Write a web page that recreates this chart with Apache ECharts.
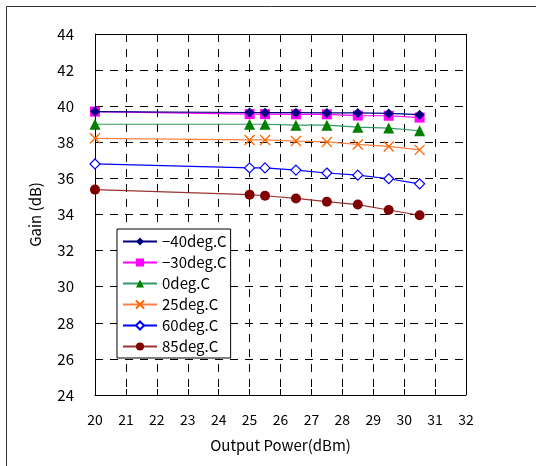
<!DOCTYPE html>
<html><head><meta charset="utf-8">
<script src="https://cdn.jsdelivr.net/npm/echarts@6/dist/echarts.min.js"></script>
<style>html,body{margin:0;padding:0;background:#fff}#c{width:536px;height:466px}</style>
</head><body><div id="c"></div>
<script>
var outputPower = [20, 25, 25.5, 26.5, 27.5, 28.5, 29.5, 30.5];
var seriesNames = ['\u221240deg.C', '\u221230deg.C', '0deg.C', '25deg.C', '60deg.C', '85deg.C'];
var gainM40 = [39.70, 39.65, 39.64, 39.64, 39.63, 39.63, 39.60, 39.53];
var gainM30 = [39.70, 39.56, 39.56, 39.55, 39.55, 39.48, 39.47, 39.37];
var gain0   = [39.00, 39.00, 39.00, 38.95, 38.95, 38.84, 38.79, 38.64];
var gain25  = [38.22, 38.13, 38.13, 38.07, 38.02, 37.88, 37.77, 37.58];
var gain60  = [36.80, 36.58, 36.58, 36.46, 36.30, 36.18, 35.98, 35.70];
var gain85  = [35.38, 35.10, 35.04, 34.89, 34.71, 34.55, 34.25, 33.96];
var xTicks = {min: 20, max: 32, step: 1};
var yTicks = {min: 24, max: 44, step: 2};

var FONT = '"Noto Sans CJK JP", "Noto Sans", sans-serif';
function pairs(v){ return outputPower.map(function(x,i){return [x, v[i]];}); }
var crossPath = 'path://M0,0L10,10M10,0L0,10';
var styles = [
  {data: gainM40, line: '#000080', symbol: 'diamond', size: 10, item: {color: '#000080'}},
  {data: gainM30, line: '#FF00FF', symbol: 'rect', size: 10, item: {color: '#FF00FF'}},
  {data: gain0, line: '#339966', symbol: 'triangle', size: 11, item: {color: '#008000'}},
  {data: gain25, line: '#FF8040', symbol: crossPath, size: 10, item: {color: 'none', borderColor: '#FF6600', borderWidth: 1.3}},
  {data: gain60, line: '#0000FF', symbol: 'diamond', size: 10, item: {color: '#ffffff', borderColor: '#0000FF', borderWidth: 1.2}},
  {data: gain85, line: '#993333', symbol: 'circle', size: 10, item: {color: '#800000'}}
];
var series = styles.map(function(s, i){
  return {
    name: seriesNames[i], type: 'line', data: pairs(s.data),
    symbol: s.symbol, symbolSize: s.size, showSymbol: true,
    lineStyle: {color: s.line, width: 1.2},
    itemStyle: s.item, animation: false,
    z: 3 + (5 - i)
  };
});

var chart = echarts.init(document.getElementById('c'), null, {renderer: 'canvas'});
chart.setOption({
  backgroundColor: '#ffffff',
  animation: false,
  textStyle: {fontFamily: FONT},
  grid: {left: 95, right: 70, top: 34, bottom: 71, show: false},
  graphic: [{type: 'rect', shape: {x: 6.5, y: 6.5, width: 700, height: 700}, style: {fill: 'none', stroke: '#333', lineWidth: 1}, silent: true}],
  legend: {
    orient: 'vertical', left: 117, top: 229,
    data: seriesNames,
    itemWidth: 34, itemHeight: 10, itemGap: 6,
    padding: [5, 4, 4, 5],
    borderColor: '#000', borderWidth: 1, backgroundColor: '#fff',
    textStyle: {fontFamily: FONT, fontSize: 15, color: '#000'},
    z: 20
  },
  xAxis: {
    type: 'value', min: xTicks.min, max: xTicks.max, interval: xTicks.step,
    name: 'Output Power(dBm)', nameLocation: 'middle', nameGap: 43,
    nameTextStyle: {fontFamily: FONT, fontSize: 15, color: '#000'},
    axisLine: {show: true, onZero: false, lineStyle: {color: '#000', width: 1}},
    axisTick: {show: true, inside: true, length: 6, lineStyle: {color: '#000'}},
    axisLabel: {fontFamily: FONT, fontSize: 14, color: '#000', margin: 18},
    splitLine: {show: true, lineStyle: {color: '#000', type: [8, 7], width: 1}}
  },
  yAxis: {
    type: 'value', min: yTicks.min, max: yTicks.max, interval: yTicks.step,
    name: 'Gain (dB)', nameLocation: 'middle', nameGap: 52,
    nameTextStyle: {fontFamily: FONT, fontSize: 15, color: '#000'},
    axisLine: {show: true, onZero: false, lineStyle: {color: '#000', width: 1}},
    axisTick: {show: true, inside: true, length: 6, lineStyle: {color: '#000'}},
    axisLabel: {fontFamily: FONT, fontSize: 15, color: '#000', margin: 21},
    splitLine: {show: true, lineStyle: {color: '#000', type: [8, 7], width: 1}}
  },
  series: series.concat([{
    type: 'line', data: [], silent: true,
    markLine: {silent: true, symbol: 'none', label: {show: false}, lineStyle: {color: '#000', type: 'solid', width: 1},
      data: [[{coord: [32, 24]}, {coord: [32, 44]}], [{coord: [20, 44]}, {coord: [32, 44]}]]}
  }])
});
</script></body></html>
